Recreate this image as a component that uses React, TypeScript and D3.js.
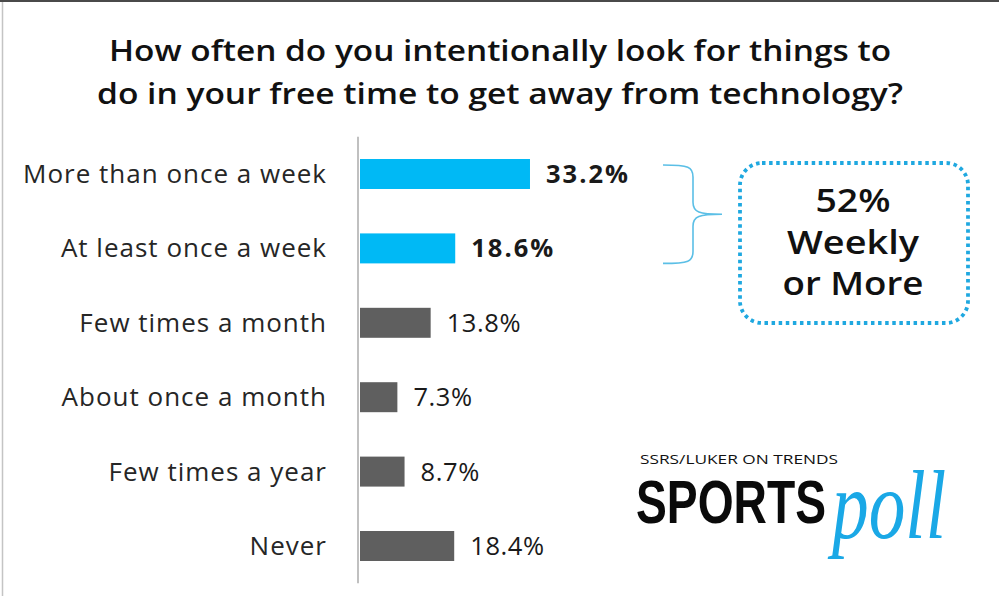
import React from "react";
import * as d3 from "d3";

const title = [
  "How often do you intentionally look for things to",
  "do in your free time to get away from technology?",
];
const categories = [
  "More than once a week",
  "At least once a week",
  "Few times a month",
  "About once a month",
  "Few times a year",
  "Never",
];
const values = [33.2, 18.6, 13.8, 7.3, 8.7, 18.4];
const highlighted = [true, true, false, false, false, false];
const calloutLines = ["52%", "Weekly", "or More"];
const logoTop = "SSRS/LUKER ON TRENDS";
const logoMain = "SPORTS";
const logoScript = "poll";

const W = 999;
const H = 596;
const FONT = "'Open Sans', 'Noto Sans', sans-serif";

export default function App() {
  const y = d3
    .scaleBand<string>()
    .domain(categories)
    .range([136.8, 583.2])
    .paddingInner(0.597)
    .paddingOuter(0.2985);
  const x = d3.scaleLinear().domain([0, 40]).range([360, 360 + 204.8]);

  const bx0 = 663, bx1 = 693, tip = 722;
  const b0 = (y(categories[0]) ?? 0) + 6;
  const b1 = (y(categories[1]) ?? 0) + y.bandwidth() + 0;
  const bm = (b0 + b1) / 2;
  const bracket = `M${bx0},${b0} C${bx1 - 4},${b0} ${bx1},${b0 + 2} ${bx1},${b0 + 12}
    L${bx1},${bm - 12} C${bx1},${bm - 2} ${bx1 + 6},${bm} ${tip},${bm}
    C${bx1 + 6},${bm} ${bx1},${bm + 2} ${bx1},${bm + 12}
    L${bx1},${b1 - 12} C${bx1},${b1 - 2} ${bx1 - 4},${b1} ${bx0},${b1}`;

  const calloutWidths = [75, 132, 141];

  return (
    <div style={{ position: "fixed", left: 0, top: 0 }}>
      <svg width={W} height={H} viewBox={`0 0 ${W} ${H}`} style={{ display: "block" }}>
        <rect x={0} y={0} width={W} height={H} fill="#ffffff" />
        <line x1={0} x2={W} y1={1} y2={1} stroke="#4a4a4a" strokeWidth={2} />
        <line x1={2.5} x2={2.5} y1={2} y2={H} stroke="#c4c4c4" strokeWidth={1.5} />

        {title.map((t, i) => (
          <text
            key={i}
            x={500}
            y={61 + i * 43}
            textAnchor="middle"
            fontFamily={FONT}
            fontWeight={600}
            fontSize={28}
            fill="#111"
            textLength={i === 0 ? 782 : 806}
            lengthAdjust="spacingAndGlyphs"
          >
            {t}
          </text>
        ))}

        <line x1={358} x2={358} y1={136.8} y2={583.2} stroke="#c0c0c0" strokeWidth={2} />

        {categories.map((c, i) => {
          const yc = (y(c) ?? 0) + y.bandwidth() / 2;
          return (
            <g key={c}>
              <text
                x={327}
                y={yc + 9}
                textAnchor="end"
                fontFamily={FONT}
                fontSize={26}
                letterSpacing={1}
                fill="#262626"
              >
                {c}
              </text>
              <rect
                x={x(0)}
                y={y(c)}
                width={x(values[i]) - x(0)}
                height={y.bandwidth()}
                fill={highlighted[i] ? "#00b9f5" : "#5f5f5f"}
              />
              <text
                x={x(values[i]) + 16}
                y={yc + 9}
                fontFamily={FONT}
                fontWeight={highlighted[i] ? 700 : 400}
                fontSize={25.5}
                letterSpacing={highlighted[i] ? 2 : 0.6}
                fill="#1a1a1a"
              >
                {values[i].toFixed(1)}%
              </text>
            </g>
          );
        })}

        <path d={bracket} fill="none" stroke="#5bbfe6" strokeWidth={1.6} />

        <rect
          x={740}
          y={163}
          width={228}
          height={160}
          rx={22}
          fill="none"
          stroke="#1fa8e0"
          strokeWidth={3.8}
          strokeDasharray="3.5 3.6"
        />
        {calloutLines.map((t, i) => (
          <text
            key={t}
            x={853}
            y={212 + i * 41.5}
            textAnchor="middle"
            fontFamily={FONT}
            fontWeight={600}
            fontSize={32}
            fill="#111"
            textLength={calloutWidths[i]}
            lengthAdjust="spacingAndGlyphs"
          >
            {t}
          </text>
        ))}

        <text
          x={640}
          y={464}
          fontFamily="'Open Sans', sans-serif"
          fontSize={13.5}
          fill="#111"
          textLength={198}
          lengthAdjust="spacingAndGlyphs"
        >
          {logoTop}
        </text>
        <text
          x={636}
          y={523}
          fontFamily="'Liberation Sans', Arial, sans-serif"
          fontWeight={700}
          fontSize={62}
          fill="#0a0a0a"
          textLength={190}
          lengthAdjust="spacingAndGlyphs"
        >
          {logoMain}
        </text>
        <text
          x={832}
          y={538}
          fontFamily="'Liberation Serif', serif"
          fontStyle="italic"
          fontSize={98}
          fill="#1aa8e6"
          textLength={114}
          lengthAdjust="spacingAndGlyphs"
        >
          {logoScript}
        </text>
      </svg>
    </div>
  );
}
